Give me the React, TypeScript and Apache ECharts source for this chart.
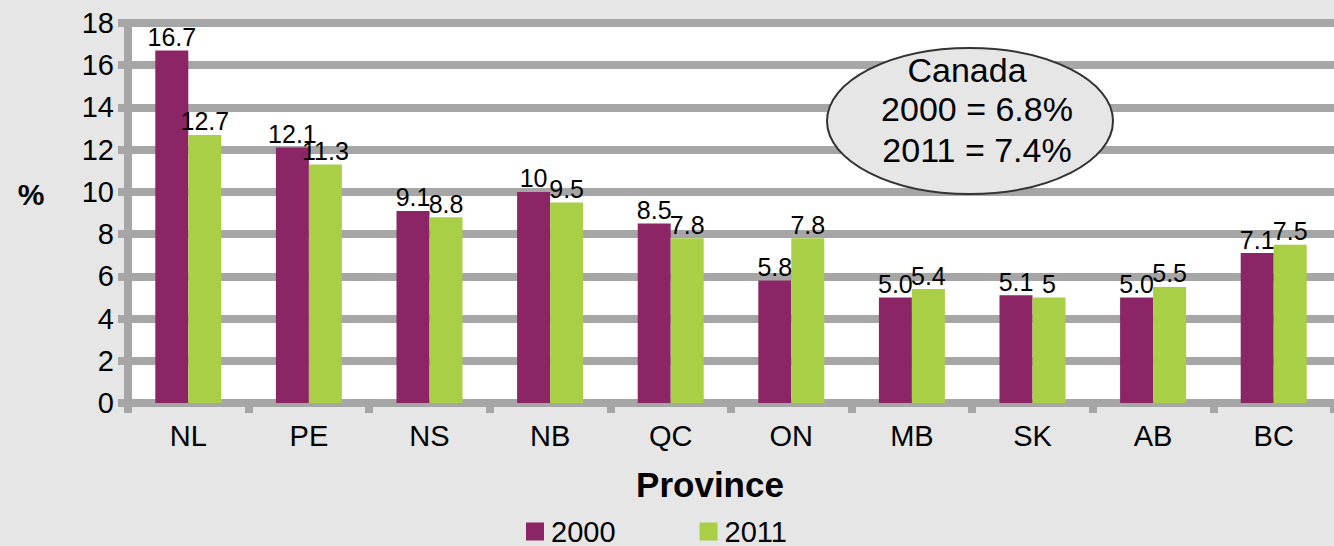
import React, { useEffect, useRef } from "react";
import * as echarts from "echarts";

const provinces = ["NL", "PE", "NS", "NB", "QC", "ON", "MB", "SK", "AB", "BC"];
const values2000 = [16.7, 12.1, 9.1, 10, 8.5, 5.8, 5.0, 5.1, 5.0, 7.1];
const values2011 = [12.7, 11.3, 8.8, 9.5, 7.8, 7.8, 5.4, 5, 5.5, 7.5];
const labels2000 = ["16.7", "12.1", "9.1", "10", "8.5", "5.8", "5.0", "5.1", "5.0", "7.1"];
const labels2011 = ["12.7", "11.3", "8.8", "9.5", "7.8", "7.8", "5.4", "5", "5.5", "7.5"];
const seriesNames = ["2000", "2011"];
const calloutLines = ["Canada", "2000 = 6.8%", "2011 = 7.4%"];

const FONT = "'Liberation Sans', Arial, Helvetica, sans-serif";
const GRID_GRAY = "#a6a6a6";

export default function App() {
  const ref = useRef<HTMLDivElement>(null);
  useEffect(() => {
    if (!ref.current) return;
    const chart = echarts.init(ref.current, undefined, { renderer: "svg" });
    const labelStyle = {
      show: true,
      position: "top" as const,
      distance: 1,
      color: "#000",
      fontSize: 25,
      fontFamily: FONT,
    };
    chart.setOption({
      animation: false,
      backgroundColor: "#e6e6e6",
      textStyle: { fontFamily: FONT },
      grid: {
        left: 128,
        right: -2,
        top: 23,
        bottom: 143,
        show: true,
        backgroundColor: "#ffffff",
        borderWidth: 0,
      },
      legend: {
        left: 526,
        top: 517,
        padding: 0,
        itemWidth: 18,
        itemHeight: 18,
        itemGap: 84,
        icon: "rect",
        textStyle: { fontSize: 29, lineHeight: 29, color: "#000", fontFamily: FONT, padding: [0, 0, 0, 2] },
        data: seriesNames,
      },
      xAxis: {
        type: "category",
        data: provinces,
        axisLine: { show: true, lineStyle: { color: GRID_GRAY, width: 8 } },
        axisTick: { show: true, length: 10, lineStyle: { color: GRID_GRAY, width: 8 } },
        axisLabel: { color: "#000", fontSize: 29, margin: 18, fontFamily: FONT },
        splitLine: { show: false },
      },
      yAxis: {
        type: "value",
        min: 0,
        max: 18,
        interval: 2,
        axisLine: { show: true, lineStyle: { color: GRID_GRAY, width: 8 } },
        axisTick: { show: true, length: 10, lineStyle: { color: GRID_GRAY, width: 8 } },
        axisLabel: { color: "#000", fontSize: 29, margin: 14, fontFamily: FONT },
        splitLine: { show: true, lineStyle: { color: GRID_GRAY, width: 8 } },
      },
      series: [
        {
          name: seriesNames[0],
          type: "bar",
          data: values2000,
          barWidth: 33,
          barGap: "0%",
          itemStyle: { color: "#8c2566" },
          label: { ...labelStyle, formatter: (p: any) => labels2000[p.dataIndex] },
          z: 3,
        },
        {
          name: seriesNames[1],
          type: "bar",
          data: values2011,
          barWidth: 33,
          barGap: "0%",
          itemStyle: { color: "#a9cf46" },
          label: { ...labelStyle, formatter: (p: any) => labels2011[p.dataIndex] },
          z: 3,
        },
      ],
      graphic: [
        {
          type: "ellipse",
          shape: { cx: 970, cy: 121, rx: 143, ry: 73 },
          style: { fill: "#e6e6e6", stroke: "#333333", lineWidth: 2 },
          z: 10,
        },
        {
          type: "text",
          x: 967,
          y: 70,
          style: { text: calloutLines[0], fontSize: 34, fill: "#000", fontFamily: FONT, align: "center", verticalAlign: "middle" },
          z: 11,
        },
        {
          type: "text",
          x: 977,
          y: 109,
          style: { text: calloutLines[1], fontSize: 34, fill: "#000", fontFamily: FONT, align: "center", verticalAlign: "middle" },
          z: 11,
        },
        {
          type: "text",
          x: 977,
          y: 150,
          style: { text: calloutLines[2], fontSize: 34, fill: "#000", fontFamily: FONT, align: "center", verticalAlign: "middle" },
          z: 11,
        },
        {
          type: "text",
          x: 710,
          y: 484,
          style: { text: "Province", fontSize: 35, fontWeight: "bold", fill: "#000", fontFamily: FONT, align: "center", verticalAlign: "middle" },
        },
        {
          type: "text",
          x: 31,
          y: 194,
          style: { text: "%", fontSize: 30, fontWeight: "bold", fill: "#000", fontFamily: FONT, align: "center", verticalAlign: "middle" },
        },
      ],
    });
    return () => chart.dispose();
  }, []);
  return <div ref={ref} style={{ width: 1334, height: 546, position: "absolute", left: 0, top: 0 }} />;
}
